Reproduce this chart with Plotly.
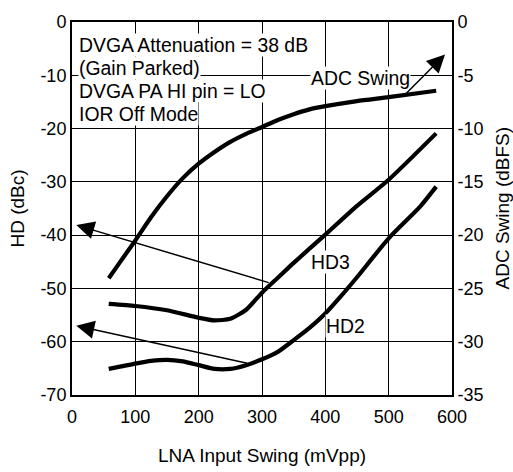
import plotly.graph_objects as go

# LNA input swing (mVpp)
adc_x = [58, 75, 100, 125, 150, 175, 200, 225, 250, 275, 300, 325, 350, 375, 400, 450, 500, 575]
adc_dbfs = [-24.05, -22.6, -20.5, -18.3, -16.35, -14.65, -13.3, -12.2, -11.25, -10.5, -9.85, -9.2,
            -8.65, -8.2, -7.9, -7.42, -7.05, -6.45]

hd3_x = [58, 100, 150, 200, 225, 250, 275, 300, 325, 350, 400, 450, 500, 575]
hd3_dbc = [-52.9, -53.3, -54.1, -55.5, -56.0, -55.7, -54.0, -50.8, -48.0, -45.2, -39.9, -34.5, -29.6, -20.9]

hd2_x = [58, 100, 125, 150, 175, 200, 225, 250, 275, 300, 325, 350, 375, 400, 425, 450, 500, 550, 575]
hd2_dbc = [-65.1, -64.1, -63.6, -63.4, -63.7, -64.4, -65.1, -65.1, -64.4, -63.3, -61.9, -59.7, -57.4,
           -54.7, -51.4, -47.9, -40.6, -34.6, -30.9]

x_ticks = [0, 100, 200, 300, 400, 500, 600]
y_ticks = [0, -10, -20, -30, -40, -50, -60, -70]
y2_ticks = [0, -5, -10, -15, -20, -25, -30, -35]

FONT = "Liberation Sans, Arial, Helvetica, sans-serif"
LW = 4.2
line_style = dict(color="black", width=LW, shape="spline", smoothing=0.6)

fig = go.Figure()
fig.add_trace(go.Scatter(x=hd3_x, y=hd3_dbc, mode="lines", line=line_style, showlegend=False))
fig.add_trace(go.Scatter(x=hd2_x, y=hd2_dbc, mode="lines", line=line_style, showlegend=False))
fig.add_trace(go.Scatter(x=adc_x, y=adc_dbfs, mode="lines", yaxis="y2", line=line_style, showlegend=False))

axis_common = dict(showline=True, linecolor="black", linewidth=2, ticks="",
                   tickfont=dict(family=FONT, size=18, color="black"), zeroline=False)

fig.update_layout(
    width=513, height=472,
    margin=dict(l=72, r=61, t=17, b=77),
    paper_bgcolor="white", plot_bgcolor="white",
    font=dict(family=FONT, color="black"),
    xaxis=dict(range=[0, 600], tickvals=x_ticks, ticktext=[str(v) for v in x_ticks], ticklabelstandoff=4,
               showgrid=True, gridcolor="black", gridwidth=1.3, mirror=True, **axis_common),
    yaxis=dict(range=[-70, 0], tickvals=y_ticks, ticktext=[str(v) for v in y_ticks],
               showgrid=True, gridcolor="black", gridwidth=1.3, mirror=True, **axis_common),
    yaxis2=dict(range=[-35, 0], tickvals=y2_ticks, ticktext=[str(v) for v in y2_ticks],
                overlaying="y", side="right", showgrid=False, **axis_common),
)

ann = []
text_lines = ["DVGA Attenuation = 38 dB", "(Gain Parked)", "DVGA PA HI pin = LO", "IOR Off Mode"]
text_y = [-4.3, -8.65, -13.0, -17.35]
for t, yy in zip(text_lines, text_y):
    ann.append(dict(x=10, y=yy, xref="x", yref="y", text=t, showarrow=False, xanchor="left", yanchor="middle",
                    bgcolor="white", borderpad=0, font=dict(family=FONT, size=19.4, color="black")))

for t, xx, yy in [("ADC Swing", 376, -10.57), ("HD3", 376, -45.05), ("HD2", 400, -57.1)]:
    ann.append(dict(x=xx, y=yy, xref="x", yref="y", text=t, showarrow=False, xanchor="left", yanchor="middle",
                    bgcolor="white", borderpad=0, font=dict(family=FONT, size=19.4, color="black")))

# arrows (tip x,y ; tail ax,ay) in dBc coords
for tip, tail in [((6.8, -38.1), (313, -49.0)), ((6.8, -57.0), (279, -64.1)), ((589, -6.1), (526, -13.6))]:
    ann.append(dict(x=tip[0], y=tip[1], ax=tail[0], ay=tail[1], xref="x", yref="y", axref="x", ayref="y",
                    text="", showarrow=True, arrowhead=2, arrowsize=2.4, arrowwidth=1.5, arrowcolor="black"))

# axis titles
ann.append(dict(x=0.5, y=0, xref="paper", yref="paper", yshift=-60, text="LNA Input Swing (mVpp)", showarrow=False,
                xanchor="center", yanchor="middle", font=dict(family=FONT, size=19, color="black")))
ann.append(dict(x=0, y=0.5, xref="paper", yref="paper", xshift=-55, text="HD (dBc)", showarrow=False, textangle=-90,
                xanchor="center", yanchor="middle", font=dict(family=FONT, size=19, color="black")))
ann.append(dict(x=1, y=0.5, xref="paper", yref="paper", xshift=50, text="ADC Swing (dBFS)", showarrow=False, textangle=-90,
                xanchor="center", yanchor="middle", font=dict(family=FONT, size=19, color="black")))

fig.update_layout(annotations=ann)
fig.write_html("out.html")
